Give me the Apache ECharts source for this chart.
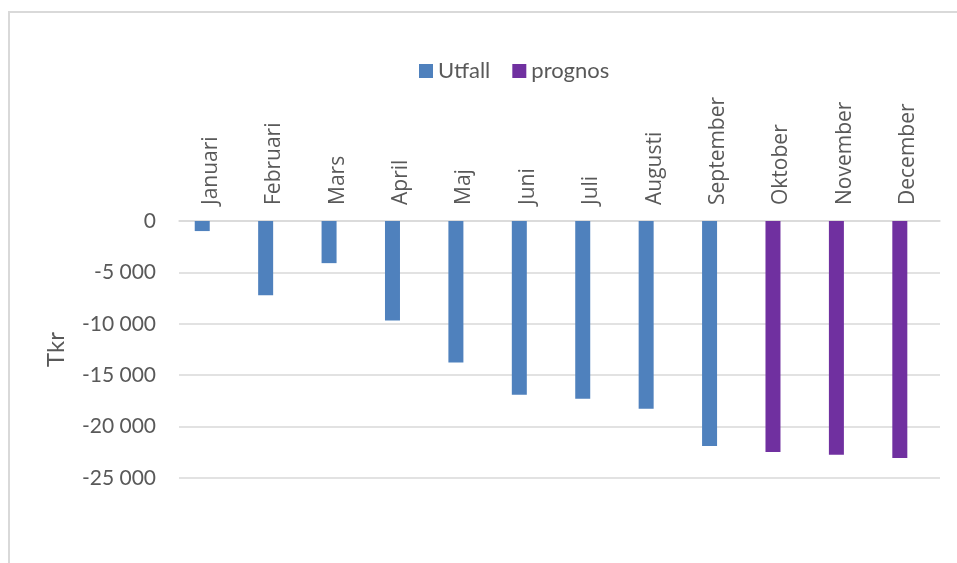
<!DOCTYPE html>
<html>
<head>
<meta charset="utf-8">
<script src="https://cdn.jsdelivr.net/npm/echarts@6/dist/echarts.min.js"></script>
<style>
html, body { margin: 0; padding: 0; background: #fff; }
#chart { width: 957px; height: 563px; }
</style>
</head>
<body>
<div id="chart"></div>
<script>
// data
const months = ['Januari', 'Februari', 'Mars', 'April', 'Maj', 'Juni', 'Juli', 'Augusti', 'September', 'Oktober', 'November', 'December']
const utfall = [-980, -7230, -4100, -9670, -13770, -16900, -17290, -18260, -21880, '-', '-', '-']
const prognos = ['-', '-', '-', '-', '-', '-', '-', '-', '-', -22460, -22750, -23050]
const emptySlot = [null, null, null, null, null, null, null, null, null, null, null, null]

const textColor = '#595959'
const lineColor = '#d9d9d9'

const fmt = v => String(v).replace(/\B(?=(\d{3})+(?!\d))/g, ' ')

const chart = echarts.init(document.getElementById('chart'))
chart.setOption({
  animation: false,
  graphic: [{
    type: 'rect',
    shape: { x: 9, y: 12, width: 1000, height: 600 },
    style: { fill: 'none', stroke: lineColor, lineWidth: 2 }
  }],
  legend: {
    data: ['Utfall', 'prognos'],
    top: 55,
    left: 414,
    icon: 'rect',
    itemWidth: 14,
    itemHeight: 14,
    itemGap: 22,
    textStyle: { fontFamily: 'Lato', fontSize: 22, color: textColor }
  },
  grid: { left: 179, top: 221, width: 761, height: 257 },
  xAxis: {
    type: 'category',
    position: 'top',
    data: months,
    axisLine: { lineStyle: { color: lineColor, width: 1.5 } },
    axisTick: { inside: true, length: 6, lineStyle: { color: lineColor, width: 1.5 } },
    axisLabel: {
      rotate: 90,
      margin: 16,
      fontFamily: 'Open Sans',
      fontSize: 21,
      color: textColor
    }
  },
  yAxis: {
    type: 'value',
    min: -25000,
    max: 0,
    interval: 5000,
    name: 'Tkr',
    nameLocation: 'middle',
    nameGap: 111,
    nameTextStyle: { fontFamily: 'Lato', fontSize: 24, color: textColor },
    axisLine: { show: false },
    axisTick: { show: false },
    axisLabel: {
      margin: 23,
      fontFamily: 'Lato',
      fontSize: 21,
      color: textColor,
      formatter: fmt
    },
    splitLine: { lineStyle: { color: lineColor, width: 1.5 } }
  },
  series: [
    {
      name: 'Utfall',
      type: 'bar',
      stack: 'all',
      barWidth: 15,
      barGap: '13%',
      itemStyle: { color: '#4f81bd' },
      data: utfall
    },
    {
      name: 'prognos',
      type: 'bar',
      stack: 'all',
      barWidth: 15,
      barGap: '13%',
      itemStyle: { color: '#7030a0' },
      data: prognos
    },
    {
      // empty slot, pushes the bars left of the category centre like in Excel
      name: 'tom',
      type: 'bar',
      barWidth: 15,
      barGap: '13%',
      silent: true,
      data: emptySlot
    }
  ]
})
</script>
</body>
</html>
